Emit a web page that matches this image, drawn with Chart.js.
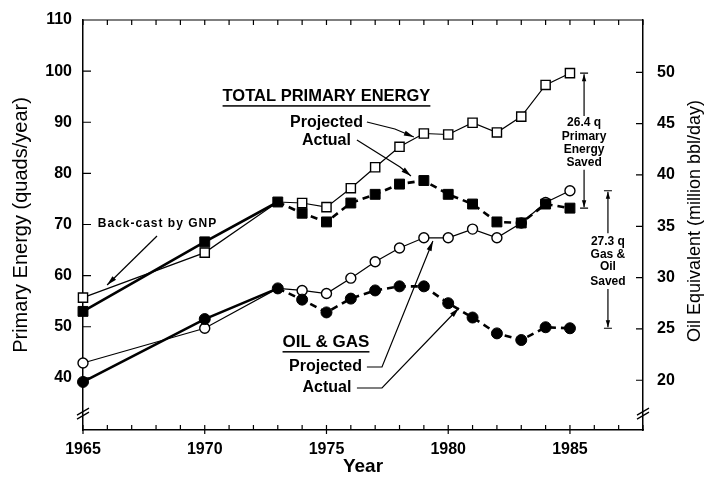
<!DOCTYPE html>
<html>
<head>
<meta charset="utf-8">
<script src="https://cdn.jsdelivr.net/npm/chart.js@4.4.0/dist/chart.umd.min.js"></script>
<style>
html, body { margin: 0; padding: 0; background: #fff; }
#wrap { width: 706px; height: 479px; }
</style>
</head>
<body>
<div id="wrap"><canvas id="myChart"></canvas></div>
<script>
const years = [1965, 1970, 1973, 1974, 1975, 1976, 1977, 1978, 1979, 1980, 1981, 1982, 1983, 1984, 1985]
const totalProjected = [55.7, 64.5, 74.4, 74.2, 73.4, 77.1, 81.2, 85.2, 87.8, 87.6, 89.9, 88.0, 91.1, 97.3, 99.6]
const totalActual = [53.0, 66.6, 74.4, 72.2, 70.5, 74.2, 75.9, 77.9, 78.6, 75.9, 74.0, 70.5, 70.3, 74.0, 73.2]
const oilProjected = [42.9, 49.7, 57.5, 57.1, 56.5, 59.5, 62.7, 65.4, 67.4, 67.4, 69.1, 67.4, 70.3, 74.3, 76.6]
const oilActual = [39.2, 51.5, 57.5, 55.3, 52.8, 55.5, 57.1, 57.9, 57.9, 54.6, 51.8, 48.7, 47.4, 49.9, 49.7]

const yearLabels = [1965, 1970, 1975, 1980, 1985]
const leftTicks = [40, 50, 60, 70, 80, 90, 100, 110]
const rightTicks = [20, 25, 30, 35, 40, 45, 50]

const FONT = "'Liberation Sans', Arial, sans-serif"
const canvas = document.querySelector("#myChart")

function points(vals) {
    return years.map((x, i) => ({ x: x, y: vals[i] }))
}

function hide1973(r) {
    return (ctx) => (ctx.raw && ctx.raw.x === 1973) ? 0 : r
}

function drawArrow(ctx, pts, headLen, headW) {
    ctx.beginPath()
    ctx.moveTo(pts[0][0], pts[0][1])
    for (let i = 1; i < pts.length; i++) ctx.lineTo(pts[i][0], pts[i][1])
    ctx.stroke()
    const a = pts[pts.length - 2], b = pts[pts.length - 1]
    const ang = Math.atan2(b[1] - a[1], b[0] - a[0])
    ctx.save()
    ctx.translate(b[0], b[1])
    ctx.rotate(ang)
    ctx.beginPath()
    ctx.moveTo(0, 0)
    ctx.lineTo(-headLen, -headW)
    ctx.lineTo(-headLen, headW)
    ctx.closePath()
    ctx.fill()
    ctx.restore()
}

function label(ctx, text, x, y, font, underline) {
    ctx.font = font
    ctx.fillText(text, x, y)
    if (underline) {
        const w = ctx.measureText(text).width
        ctx.fillRect(x - w / 2, y + underline, w, 1.5)
    }
}

// dimension bracket: bar + arrow at each end, text in the gap
function bracket(ctx, x, yTop, yBot, gapTop, gapBot) {
    ctx.beginPath()
    ctx.moveTo(x - 4, yTop); ctx.lineTo(x + 4, yTop)
    ctx.moveTo(x - 4, yBot); ctx.lineTo(x + 4, yBot)
    ctx.stroke()
    drawArrow(ctx, [[x, gapTop], [x, yTop + 1]], 7, 2.2)
    drawArrow(ctx, [[x, gapBot], [x, yBot - 1]], 7, 2.2)
}

const framePlugin = {
    id: "frame",
    beforeDatasetsDraw(chart) {
        const ctx = chart.ctx
        const xs = chart.scales.x, ys = chart.scales.y, y2 = chart.scales.y2
        const { left, right, top, bottom } = chart.chartArea
        ctx.save()
        ctx.strokeStyle = "#000"
        ctx.lineWidth = 1.2
        ctx.beginPath()
        ctx.moveTo(left, top); ctx.lineTo(right, top)
        for (let yr = 1965; yr <= 1988; yr++) {
            const px = xs.getPixelForValue(yr)
            ctx.moveTo(px, top); ctx.lineTo(px, top + 5)
            ctx.moveTo(px, bottom); ctx.lineTo(px, bottom - 5)
            if (yr % 5 === 0) { ctx.moveTo(px, bottom); ctx.lineTo(px, bottom + 4) }
        }
        leftTicks.forEach(v => {
            const py = ys.getPixelForValue(v)
            ctx.moveTo(left, py); ctx.lineTo(left + 8, py)
        })
        rightTicks.forEach(v => {
            const py = y2.getPixelForValue(v)
            ctx.moveTo(right, py); ctx.lineTo(right - 7, py)
        })
        ctx.stroke()

        // axis break marks
        const yb = ys.getPixelForValue(32.9)
        ctx.lineWidth = 1.3
        ctx.beginPath();
        [left, right].forEach(x0 => {
            ctx.moveTo(x0 - 6, yb + 1); ctx.lineTo(x0 + 6, yb - 6)
            ctx.moveTo(x0 - 6, yb + 5); ctx.lineTo(x0 + 6, yb - 2)
        })
        ctx.stroke()

        // right axis title, reading bottom to top
        ctx.fillStyle = "#000"
        ctx.font = "18px " + FONT
        ctx.textAlign = "center"
        ctx.textBaseline = "middle"
        ctx.translate(695, (top + bottom) / 2 - 4)
        ctx.rotate(-Math.PI / 2)
        ctx.fillText("Oil Equivalent (million bbl/day)", 0, 0)
        ctx.restore()
    },
    afterDraw(chart) {
        const ctx = chart.ctx
        const xs = chart.scales.x, ys = chart.scales.y
        const X = v => xs.getPixelForValue(v)
        const Y = v => ys.getPixelForValue(v)
        ctx.save()
        ctx.fillStyle = "#000"
        ctx.strokeStyle = "#000"
        ctx.lineWidth = 1.2
        ctx.textAlign = "center"
        ctx.textBaseline = "middle"

        const big = "bold 16px " + FONT
        label(ctx, "TOTAL PRIMARY ENERGY", X(1975.0), Y(95.1), "bold 16.5px " + FONT, 9)
        label(ctx, "Projected", X(1975.0), Y(89.9), big)
        label(ctx, "Actual", X(1975.0), Y(86.5), big)
        drawArrow(ctx, [[X(1976.66), Y(90.05)], [X(1977.81), Y(88.68)], [X(1978.59), Y(87.12)]], 10, 2.6)
        drawArrow(ctx, [[X(1976.25), Y(86.53)], [X(1978.02), Y(81.25)], [X(1978.47), Y(79.49)]], 10, 2.6)

        label(ctx, "OIL & GAS", X(1974.98), Y(47.0), "bold 17px " + FONT, 9)
        label(ctx, "Projected", X(1974.96), Y(42.12), big)
        label(ctx, "Actual", X(1975.02), Y(38.02), big)
        drawArrow(ctx, [[X(1976.66), Y(42.12)], [X(1977.28), Y(42.12)], [X(1979.37), Y(66.77)]], 10, 2.6)
        drawArrow(ctx, [[X(1976.25), Y(38.02)], [X(1977.28), Y(38.02)], [X(1980.44), Y(53.67)]], 10, 2.6)

        ctx.letterSpacing = "1px"
        label(ctx, "Back-cast by GNP", X(1968.06), Y(70.1), "bold 12px " + FONT)
        ctx.letterSpacing = "0px"
        drawArrow(ctx, [[X(1968.04), Y(67.75)], [X(1965.99), Y(58.16)]], 10, 2.6)

        const small = "bold 12px " + FONT
        const x1 = X(1985.58)
        bracket(ctx, x1, Y(99.6), Y(73.2), Y(91.2), Y(80.7))
        label(ctx, "26.4 q", x1, Y(89.9), small)
        label(ctx, "Primary", x1, Y(87.1), small)
        label(ctx, "Energy", x1, Y(84.6), small)
        label(ctx, "Saved", x1, Y(82.0), small)

        const x2 = X(1986.56)
        bracket(ctx, x2, Y(76.6), Y(49.7), Y(68.3), Y(57.4))
        label(ctx, "27.3 q", x2, Y(66.6), small)
        label(ctx, "Gas &", x2, Y(64.0), small)
        label(ctx, "Oil", x2, Y(61.7), small)
        label(ctx, "Saved", x2, Y(58.9), small)
        ctx.restore()
    }
}

const dashed = { borderDash: ctx => ctx.p0.parsed.x >= 1973 ? [7, 5] : undefined }

const datasets = [
    {
        label: "Total actual", data: points(totalActual),
        borderColor: "#000", borderWidth: 2.6, borderDash: [], segment: dashed,
        pointStyle: "rect", pointRadius: 7, pointBackgroundColor: "#000", pointBorderColor: "#000", pointBorderWidth: 1
    },
    {
        label: "Oil & gas actual", data: points(oilActual),
        borderColor: "#000", borderWidth: 2.6, borderDash: [], segment: dashed,
        pointStyle: "circle", pointRadius: 5.5, pointBackgroundColor: "#000", pointBorderColor: "#000", pointBorderWidth: 1
    },
    {
        label: "Total projected", data: points(totalProjected),
        borderColor: "#000", borderWidth: 1.2,
        pointStyle: "rect", pointRadius: hide1973(6.5), pointBackgroundColor: "#fff", pointBorderColor: "#000", pointBorderWidth: 1.4
    },
    {
        label: "Oil & gas projected", data: points(oilProjected),
        borderColor: "#000", borderWidth: 1.2,
        pointStyle: "circle", pointRadius: hide1973(5), pointBackgroundColor: "#fff", pointBorderColor: "#000", pointBorderWidth: 1.4
    }
]
datasets.forEach(d => { d.clip = false; d.tension = 0; d.pointHoverRadius = d.pointRadius })

const tickFont = { family: FONT, size: 16, weight: "bold" }

const config = {
    type: "line",
    data: { datasets },
    options: {
        responsive: true,
        maintainAspectRatio: false,
        animation: false,
        devicePixelRatio: 1,
        layout: { padding: { top: 20, left: 0, right: 0, bottom: 0 } },
        plugins: { legend: { display: false }, tooltip: { enabled: false } },
        scales: {
            x: {
                type: "linear", min: 1965, max: 1988,
                afterBuildTicks: s => { s.ticks = yearLabels.map(v => ({ value: v })) },
                afterFit: s => { s.height = 49 },
                ticks: { font: tickFont, color: "#000", padding: 2, maxRotation: 0, autoSkip: false, callback: v => String(v) },
                grid: { display: false },
                border: { color: "#000", width: 1.5 },
                title: { display: true, text: "Year", color: "#000", font: { family: FONT, size: 19, weight: "bold" }, padding: { top: 0, bottom: 1 } }
            },
            y: {
                position: "left", min: 29.8, max: 110,
                afterBuildTicks: s => { s.ticks = leftTicks.map(v => ({ value: v })) },
                afterFit: s => { s.width = 83 },
                ticks: { font: tickFont, color: "#000", padding: 3 },
                grid: { display: false },
                border: { color: "#000", width: 1.5 },
                title: { display: true, text: "Primary Energy (quads/year)", color: "#000", font: { family: FONT, size: 20 }, padding: { top: 9, bottom: 0 } }
            },
            y2: {
                position: "right", min: 15.15, max: 55.1,
                afterBuildTicks: s => { s.ticks = rightTicks.map(v => ({ value: v })) },
                afterFit: s => { s.width = 63 },
                ticks: { font: tickFont, color: "#000", padding: 6 },
                grid: { display: false },
                border: { color: "#000", width: 1.5 }
            }
        }
    },
    plugins: [framePlugin]
}

new Chart(canvas, config)
</script>
</body>
</html>
